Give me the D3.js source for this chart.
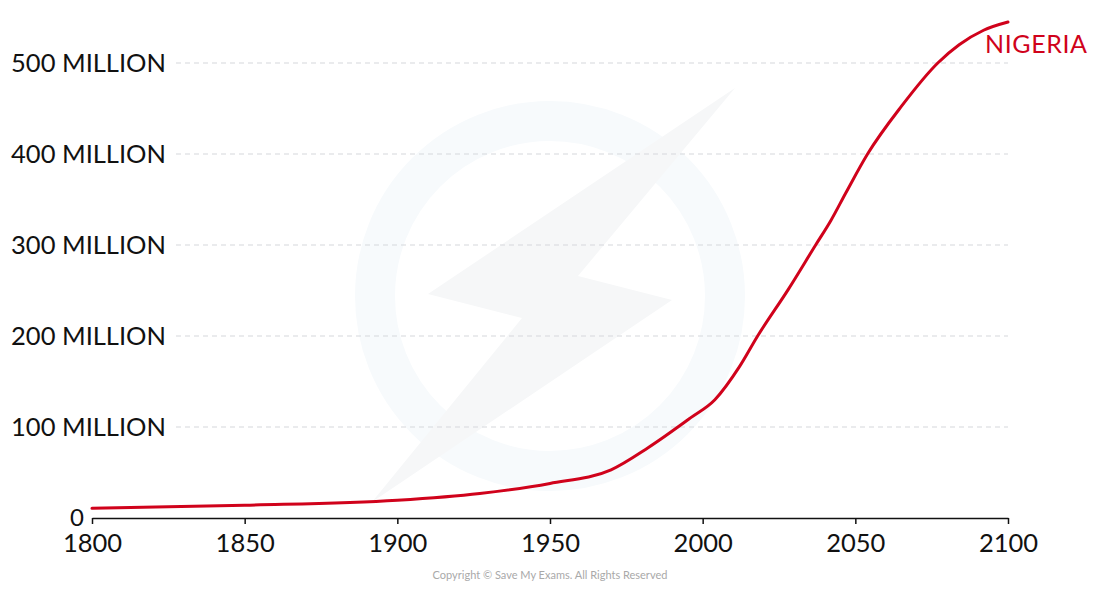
<!DOCTYPE html>
<html>
<head>
<meta charset="utf-8">
<script src="https://cdn.jsdelivr.net/npm/d3@7"></script>
<style>
  html, body { margin: 0; padding: 0; background: #ffffff; }
  svg { display: block; }
  text { font-family: Lato, "Open Sans", sans-serif; }
</style>
</head>
<body>
<svg id="chart" width="1100" height="594"></svg>
<script>
const years  = [1800, 1850, 1900, 1927, 1950, 1970, 1982, 1996, 2004, 2012, 2018, 2028, 2037, 2042, 2047, 2054, 2065, 2077, 2084, 2092, 2100];
const nigeria = [10.6, 14, 19.5, 27, 38, 53, 77, 110, 130, 166, 200, 251, 300, 327, 358, 400, 452, 500, 520, 536, 545];
const xTicks = [1800, 1850, 1900, 1950, 2000, 2050, 2100];
const yTicks = [100, 200, 300, 400, 500];
const yTickLabels = ["100 MILLION", "200 MILLION", "300 MILLION", "400 MILLION", "500 MILLION"];
const seriesName = "NIGERIA";
const copyright = "Copyright © Save My Exams. All Rights Reserved";

const svg = d3.select("#chart");
const x = d3.scaleLinear().domain([1800, 2100]).range([92, 1008]);
const y = d3.scaleLinear().domain([0, 500]).range([518, 63]);

// faint watermark
const wm = svg.append("g");
wm.append("circle").attr("cx", 550).attr("cy", 296).attr("r", 175)
  .attr("fill", "none").attr("stroke", "#f7fafc").attr("stroke-width", 40);
wm.append("path")
  .attr("d", "M735,88 L428,294 L522,318 L372,502 L672,300 L578,276 Z")
  .attr("fill", "#f6f7f8");

// gridlines
svg.append("g").selectAll("line").data(yTicks).join("line")
  .attr("x1", 176).attr("x2", 1008)
  .attr("y1", d => y(d)).attr("y2", d => y(d))
  .attr("stroke", "#d5d8db").attr("stroke-width", 1.2)
  .attr("stroke-dasharray", "5,4");

// y labels
svg.append("g").selectAll("text").data(yTicks).join("text")
  .attr("x", 166).attr("y", d => y(d) + 9)
  .attr("text-anchor", "end").attr("font-size", 25.5).attr("fill", "#111")
  .text((d, i) => yTickLabels[i]);
svg.append("text").attr("x", 84).attr("y", y(0) + 8)
  .attr("text-anchor", "end").attr("font-size", 24).attr("fill", "#111").text("0");

// x axis
const xAxis = d3.axisBottom(x).tickValues(xTicks).tickFormat(d3.format("d"))
  .tickSize(6).tickSizeOuter(0).tickPadding(10);
const gx = svg.append("g").attr("transform", `translate(0,${y(0)})`).call(xAxis);
gx.select(".domain").attr("stroke", "#111").attr("stroke-width", 1.5);
gx.selectAll(".tick line").attr("stroke", "#111").attr("stroke-width", 1.5);
gx.selectAll(".tick text").attr("font-size", 25.5).attr("fill", "#111")
  .attr("font-family", "Lato, sans-serif");

// line
const data = years.map((yr, i) => ({ yr, v: nigeria[i] }));
const line = d3.line().x(d => x(d.yr)).y(d => y(d.v)).curve(d3.curveMonotoneX);
svg.append("path").datum(data).attr("d", line)
  .attr("fill", "none").attr("stroke", "#d0021b").attr("stroke-width", 3)
  .attr("stroke-linecap", "round");

svg.append("text").attr("x", 985).attr("y", 53)
  .attr("font-size", 25).attr("letter-spacing", 0.6).attr("fill", "#d0021b").text(seriesName);

svg.append("text").attr("x", 550).attr("y", 579).attr("text-anchor", "middle")
  .attr("font-size", 11).attr("fill", "#a9a9a9").text(copyright);
</script>
</body>
</html>
